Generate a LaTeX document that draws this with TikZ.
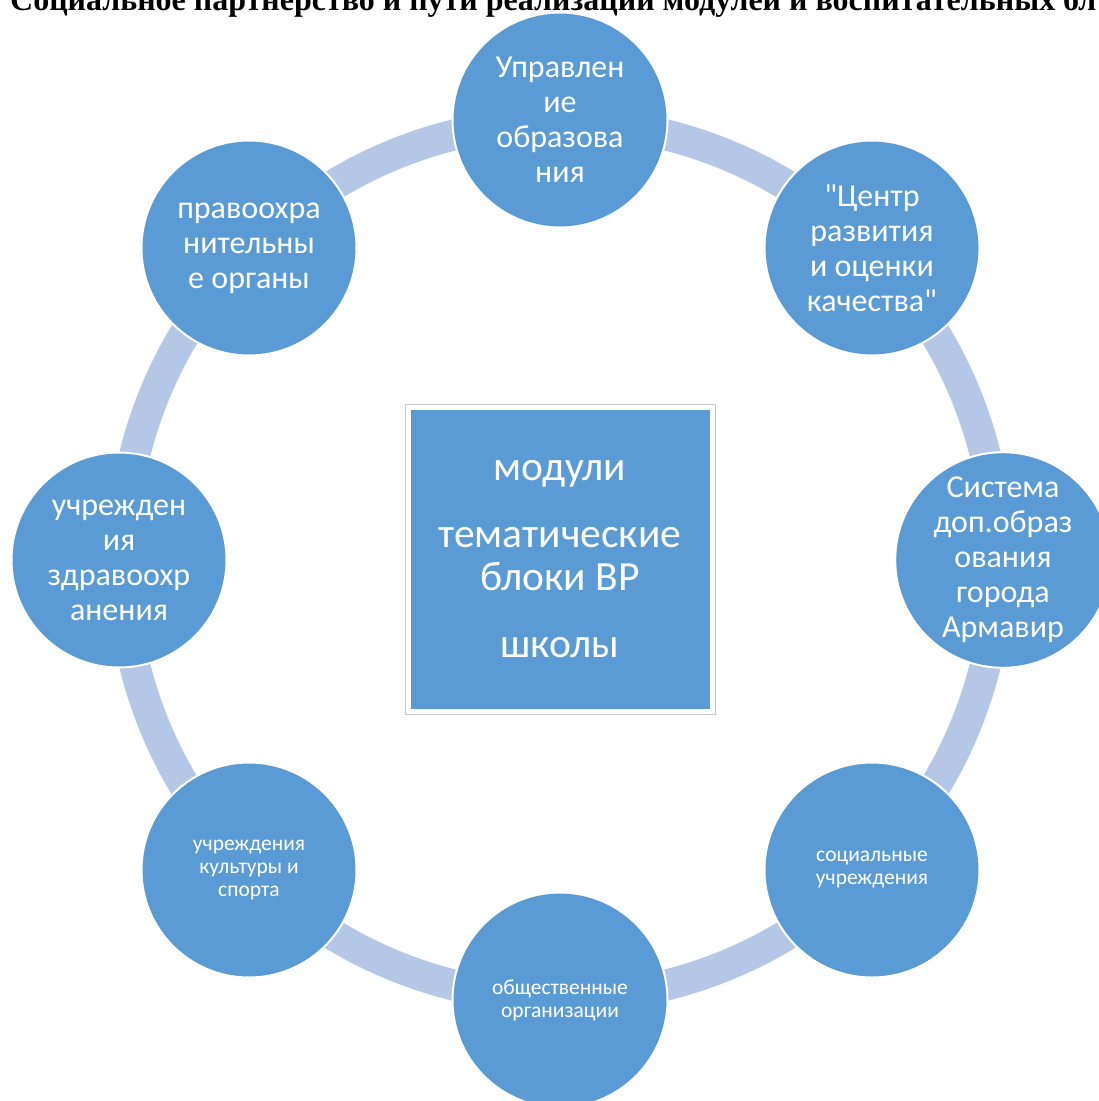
\documentclass[tikz,border=0pt]{standalone}
\usepackage{fontspec}
\defaultfontfeatures[\rmfamily,\sffamily]{}
\setmainfont{Carlito}
\newfontfamily\titlefont{Liberation Serif}
\definecolor{nodeblue}{HTML}{5B9BD5}
\definecolor{ringblue}{HTML}{B4C7E7}
\definecolor{framegray}{HTML}{C8C8C8}
\begin{document}
\begin{tikzpicture}[x=1pt,y=-1pt,
  partner/.style={circle, fill=nodeblue, draw=white, line width=2pt,
    minimum size=215pt, inner sep=0pt, text=white, align=center,
    font=\fontsize{32}{35}\selectfont},
  partnersmall/.style={partner, font=\fontsize{21.5}{23}\selectfont},
  hub/.style={rectangle, fill=nodeblue, draw=white, line width=3pt,
    minimum width=302pt, minimum height=302pt, inner sep=0pt, text=white,
    align=center, font=\fontsize{41.5}{43}\selectfont},
  hubframe/.style={draw=framegray, line width=1pt},
  ring/.style={draw=ringblue, line width=31pt},
  titletext/.style={anchor=base west, inner sep=0pt,
    font=\titlefont\bfseries\fontsize{32}{36}\selectfont}]
\useasboundingbox (0,0) rectangle (1099,1101);
\clip (0,0) rectangle (1099,1101);
\fill[white] (0,0) rectangle (1099,1101);
\coordinate (ctr) at (560,560);
\draw[ring] (ctr) circle[radius=438pt];
\node[partner] (upr) at (560,120) {Управлен\\ие\\образова\\ния};
\node[partner] (centr) at (872,248) {"Центр\\развития\\и оценки\\качества"};
\node[partner] (sist) at (1003,560) {Система\\доп.образ\\ования\\города\\Армавир};
\node[partnersmall] (soc) at (872,870) {социальные\\учреждения};
\node[partnersmall] (obsh) at (560,1000) {общественные\\организации};
\node[partnersmall] (kult) at (249,870) {учреждения\\культуры и\\спорта};
\node[partner] (zdrav) at (119,560) {учрежден\\ия\\здравоохр\\анения};
\node[partner] (prav) at (249,248) {правоохра\\нительны\\е органы};
\node[hub] (hub) at (560,559) {модули\\[24pt]тематические\\блоки ВР\\[24pt]школы};
\draw[hubframe] ([shift={(-2.5,-2.5)}]hub.north west) rectangle ([shift={(2.5,2.5)}]hub.south east);
\node[titletext] (title) at (10,10) {Социальное партнерство и пути реализации модулей и воспитательных бл};
\end{tikzpicture}
\end{document}
